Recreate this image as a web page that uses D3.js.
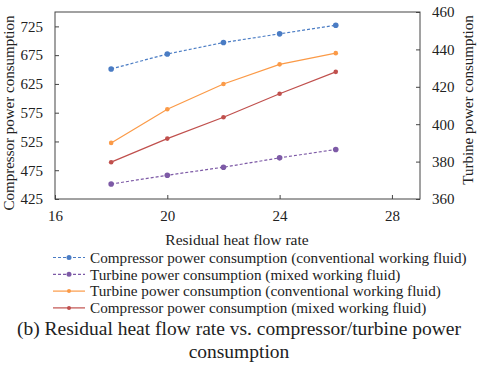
<!DOCTYPE html>
<html>
<head>
<meta charset="utf-8">
<script src="https://cdn.jsdelivr.net/npm/d3@7"></script>
<style>
  body { margin: 0; background: #fff; }
  text { font-family: "Liberation Serif", "Times New Roman", serif; fill: #222; }
</style>
</head>
<body>
<div id="chart"></div>
<script>
// data
var flowRate = [18, 20, 22, 24, 26];
var compConv = [651, 677, 697, 712, 727];    // left axis
var compMixed = [489, 530, 567, 608, 646];   // left axis
var turbMixed = [368, 372.7, 377, 382, 386.5]; // right axis
var turbConv = [390, 408, 421.5, 432, 438];  // right axis

var xTicks = [16, 20, 24, 28];
var leftTicks = [425, 475, 525, 575, 625, 675, 725];
var rightTicks = [360, 380, 400, 420, 440, 460];

var W = 480, H = 366;
var margin = { top: 12, right: 60, bottom: 167, left: 55 },
  width = W - margin.left - margin.right,
  height = H - margin.top - margin.bottom;

var svg = d3.select("#chart").append("svg")
  .attr("width", W).attr("height", H);

var g = svg.append("g")
  .attr("transform", "translate(" + margin.left + "," + margin.top + ")");

var x = d3.scaleLinear().domain([16, 29]).range([0, width]);
var yL = d3.scaleLinear().domain([425, 750]).range([height, 0]);
var yR = d3.scaleLinear().domain([360, 460]).range([height, 0]);

// frame
g.append("rect")
  .attr("width", width).attr("height", height)
  .attr("fill", "none").attr("stroke", "#444").attr("stroke-width", 1);

// axes (ticks inward)
var axX = g.append("g").attr("transform", "translate(0," + height + ")")
  .call(d3.axisBottom(x).tickValues(xTicks).tickSizeInner(-4).tickSizeOuter(0).tickPadding(11));
var axL = g.append("g")
  .call(d3.axisLeft(yL).tickValues(leftTicks).tickSizeInner(-4).tickSizeOuter(0).tickPadding(12));
var axR = g.append("g").attr("transform", "translate(" + width + ",0)")
  .call(d3.axisRight(yR).tickValues(rightTicks).tickSizeInner(-4).tickSizeOuter(0).tickPadding(12));

[axX, axL, axR].forEach(function (a) {
  a.attr("font-family", null);
  a.select(".domain").remove();
  a.selectAll("line").attr("stroke", "#444");
  a.selectAll("text").style("font-size", "15px")
    .style("font-family", "'Liberation Serif', serif").attr("fill", "#222");
});

// axis titles
svg.append("text")
  .attr("transform", "translate(14,113) rotate(-90)")
  .attr("text-anchor", "middle").style("font-size", "15px")
  .text("Compressor power consumption");
svg.append("text")
  .attr("transform", "translate(473,100) rotate(-90)")
  .attr("text-anchor", "middle").style("font-size", "15px")
  .text("Turbine power consumption");
svg.append("text")
  .attr("x", 237).attr("y", 245)
  .attr("text-anchor", "middle").style("font-size", "15.5px")
  .text("Residual heat flow rate");

var series = [
  { name: "Compressor power consumption (conventional working fluid)", vals: compConv, y: yL, color: "#4a7cc4", dash: "3,2", r: 2.8 },
  { name: "Turbine power consumption (mixed working fluid)", vals: turbMixed, y: yR, color: "#7d5aa6", dash: "3,2", r: 2.8 },
  { name: "Turbine power consumption (conventional working fluid)", vals: turbConv, y: yR, color: "#fb9a47", dash: null, r: 2.3 },
  { name: "Compressor power consumption (mixed working fluid)", vals: compMixed, y: yL, color: "#c0504d", dash: null, r: 2.3 }
];

series.forEach(function (s) {
  var pts = flowRate.map(function (f, i) { return [f, s.vals[i]]; });
  var line = d3.line()
    .x(function (d) { return x(d[0]); })
    .y(function (d) { return s.y(d[1]); });
  g.append("path").datum(pts)
    .attr("d", line)
    .attr("fill", "none").attr("stroke", s.color).attr("stroke-width", 1.2)
    .attr("stroke-dasharray", s.dash);
  g.selectAll(null).data(pts).enter().append("circle")
    .attr("cx", function (d) { return x(d[0]); })
    .attr("cy", function (d) { return s.y(d[1]); })
    .attr("r", s.r).attr("fill", s.color);
});

// legend
var leg = svg.append("g").attr("transform", "translate(53,257.5)");
series.forEach(function (s, i) {
  var row = leg.append("g").attr("transform", "translate(0," + (i * 16.8) + ")");
  row.append("line").attr("x1", 0).attr("x2", 32).attr("y1", 0).attr("y2", 0)
    .attr("stroke", s.color).attr("stroke-width", 1.2).attr("stroke-dasharray", s.dash);
  row.append("circle").attr("cx", 16).attr("cy", 0).attr("r", s.r - 0.3).attr("fill", s.color);
  row.append("text").attr("x", 37).attr("y", 0).attr("dy", "0.35em")
    .style("font-size", "15.2px").text(s.name);
});

// caption
svg.append("text").attr("x", 239).attr("y", 335)
  .attr("text-anchor", "middle").style("font-size", "19.5px")
  .text("(b) Residual heat flow rate vs. compressor/turbine power");
svg.append("text").attr("x", 239).attr("y", 358)
  .attr("text-anchor", "middle").style("font-size", "19.5px")
  .text("consumption");
</script>
</body>
</html>
